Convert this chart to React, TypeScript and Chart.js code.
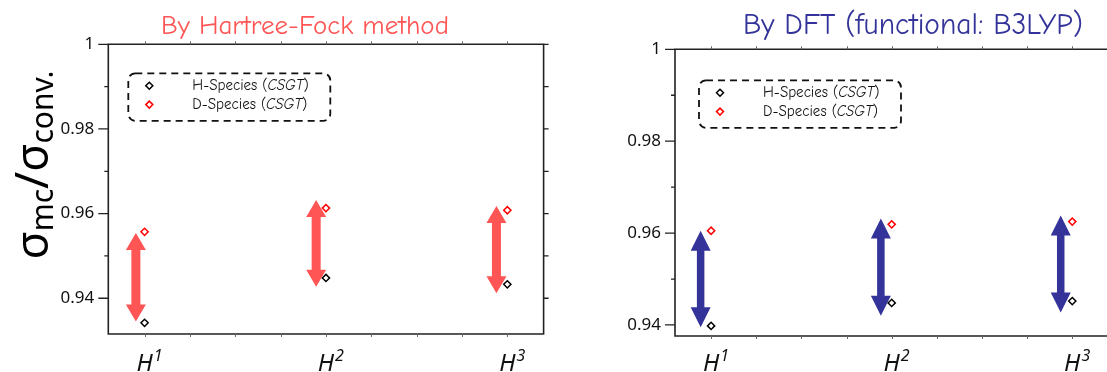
import React, { useEffect, useRef } from "react";
import { Chart, registerables } from "chart.js";

Chart.register(...registerables);

// ---------- data ----------
const categoryX = [1, 2, 3];
const categorySup = ["1", "2", "3"];
const seriesLabels = ["H-Species (CSGT)", "D-Species (CSGT)"];

const hfHSpecies = [0.9342, 0.9448, 0.9433];
const hfDSpecies = [0.9557, 0.9613, 0.9608];
const hfArrowX = [0.952, 1.946, 2.94];
const hfArrowTop = [0.9554, 0.9632, 0.9618];
const hfArrowBottom = [0.9345, 0.9427, 0.9412];

const dftHSpecies = [0.9398, 0.9448, 0.9452];
const dftDSpecies = [0.9605, 0.9619, 0.9625];
const dftArrowX = [0.942, 1.94, 2.936];
const dftArrowTop = [0.9605, 0.9632, 0.9638];
const dftArrowBottom = [0.9395, 0.942, 0.9427];

const yMajorTicks = [0.94, 0.96, 0.98, 1.0];
const yMinorTicks = [0.95, 0.97, 0.99];
const xMinorTicks = [1, 1.25, 1.5, 1.75, 2, 2.25, 2.5, 2.75, 3];

const titleFont = '"Comic Sans MS", "Comic Neue", "Noto Sans", sans-serif';
const axisFont = '"Noto Sans", "Liberation Sans", sans-serif';

// ---------- drawing plugin ----------
const decorPlugin = {
  id: "decor",
  beforeDatasetsDraw(chart: any, _a: any, o: any) {
    const ctx = chart.ctx;
    const xs = chart.scales.x;
    const ys = chart.scales.y;
    ctx.save();
    ctx.fillStyle = o.arrowColor;
    o.arrowX.forEach((xv: number, i: number) => {
      const x = xs.getPixelForValue(xv);
      const yT = ys.getPixelForValue(o.arrowTop[i]);
      const yB = ys.getPixelForValue(o.arrowBottom[i]);
      const hw = o.headW / 2;
      const sw = o.shaft / 2;
      const hl = o.headL;
      ctx.beginPath();
      ctx.moveTo(x, yT);
      ctx.lineTo(x + hw, yT + hl);
      ctx.lineTo(x + sw, yT + hl);
      ctx.lineTo(x + sw, yB - hl);
      ctx.lineTo(x + hw, yB - hl);
      ctx.lineTo(x, yB);
      ctx.lineTo(x - hw, yB - hl);
      ctx.lineTo(x - sw, yB - hl);
      ctx.lineTo(x - sw, yT + hl);
      ctx.lineTo(x - hw, yT + hl);
      ctx.closePath();
      ctx.fill();
    });
    ctx.restore();
  },
  afterDraw(chart: any, _a: any, o: any) {
    const ctx = chart.ctx;
    const ca = chart.chartArea;
    const xs = chart.scales.x;
    const ys = chart.scales.y;
    ctx.save();
    // frame
    ctx.strokeStyle = "#222";
    ctx.lineWidth = 1.6;
    ctx.beginPath();
    ctx.rect(ca.left, ca.top, ca.right - ca.left, ca.bottom - ca.top);
    ctx.stroke();
    // y ticks
    ctx.lineWidth = 1.3;
    yMajorTicks.forEach((v) => {
      const y = ys.getPixelForValue(v);
      ctx.beginPath();
      ctx.moveTo(ca.left - 10, y);
      ctx.lineTo(ca.left, y);
      ctx.moveTo(ca.right, y);
      ctx.lineTo(ca.right + 5, y);
      ctx.stroke();
    });
    yMinorTicks.forEach((v) => {
      const y = ys.getPixelForValue(v);
      ctx.beginPath();
      ctx.moveTo(ca.left - 4, y);
      ctx.lineTo(ca.left, y);
      ctx.moveTo(ca.right, y);
      ctx.lineTo(ca.right + 5, y);
      ctx.stroke();
    });
    // x ticks (top & bottom)
    ctx.strokeStyle = "#666";
    ctx.lineWidth = 1;
    xMinorTicks.forEach((v) => {
      const x = Math.round(xs.getPixelForValue(v)) + 0.5;
      ctx.beginPath();
      ctx.moveTo(x, ca.bottom);
      ctx.lineTo(x, ca.bottom + 3);
      ctx.moveTo(x, ca.top);
      ctx.lineTo(x, ca.top - 3);
      ctx.stroke();
    });
    // x category labels H^n
    ctx.fillStyle = "#111";
    ctx.textBaseline = "alphabetic";
    categoryX.forEach((v, i) => {
      const x = xs.getPixelForValue(v);
      ctx.font = `italic 24px ${axisFont}`;
      const w = ctx.measureText("H").width;
      ctx.textAlign = "center";
      ctx.fillText("H", x, 371);
      ctx.font = `italic 16px ${axisFont}`;
      ctx.textAlign = "left";
      ctx.fillText(categorySup[i], x + w / 2 + 1, 361);
    });
    // title
    ctx.font = `${o.titleSize}px ${titleFont}`;
    ctx.fillStyle = o.titleColor;
    ctx.textAlign = "center";
    ctx.fillText(o.title, o.titleX, 34);
    // legend
    const lx = ca.left + o.legendDX;
    const ly = ca.top + o.legendDY;
    const lw = 202;
    const lh = 47.5;
    ctx.strokeStyle = "#111";
    ctx.lineWidth = 1.8;
    ctx.setLineDash([7, 5]);
    ctx.beginPath();
    (ctx as any).roundRect(lx, ly, lw, lh, 7);
    ctx.stroke();
    ctx.setLineDash([]);
    chart.data.datasets.forEach((ds: any, i: number) => {
      const cy = ly + 12.5 + i * 18.8;
      const cx = lx + 21;
      ctx.strokeStyle = ds.borderColor;
      ctx.lineWidth = 1.5;
      ctx.beginPath();
      ctx.moveTo(cx, cy - 3.5);
      ctx.lineTo(cx + 3.5, cy);
      ctx.lineTo(cx, cy + 3.5);
      ctx.lineTo(cx - 3.5, cy);
      ctx.closePath();
      ctx.stroke();
      const label: string = ds.label;
      const m = label.match(/^(.*\()(.*)(\))$/);
      const parts = m
        ? [[m[1], false], [m[2], true], [m[3], false]]
        : [[label, false]];
      let tx = lx + 64;
      ctx.fillStyle = "#111";
      ctx.textAlign = "left";
      ctx.textBaseline = "middle";
      parts.forEach(([t, it]: any) => {
        ctx.font = `${it ? "italic " : ""}15px ${titleFont}`;
        ctx.fillText(t, tx, cy);
        tx += ctx.measureText(t).width;
      });
    });
    // y-axis title
    if (o.yTitle) {
      const parts: [string, boolean][] = [
        ["σ", false],
        ["mc", true],
        ["/", false],
        ["σ", false],
        ["conv.", true],
      ];
      ctx.textBaseline = "alphabetic";
      ctx.textAlign = "left";
      let total = 0;
      parts.forEach(([t, s]) => {
        ctx.font = `${s ? 30 : 46}px ${axisFont}`;
        total += ctx.measureText(t).width;
      });
      ctx.translate(48, 165);
      ctx.rotate(-Math.PI / 2);
      let px = -total / 2;
      ctx.fillStyle = "#000";
      parts.forEach(([t, s]) => {
        ctx.font = `${s ? 30 : 46}px ${axisFont}`;
        ctx.fillText(t, px, s ? 5 : 0);
        px += ctx.measureText(t).width;
      });
    }
    ctx.restore();
  },
};

type Panel = {
  hSpecies: number[];
  dSpecies: number[];
  arrowX: number[];
  arrowTop: number[];
  arrowBottom: number[];
  yMin: number;
  yAxisW: number;
  xAxisH: number;
  padTop: number;
  padRight: number;
  title: string;
  titleColor: string;
  titleX: number;
  titleSize: number;
  arrowColor: string;
  shaft: number;
  headW: number;
  headL: number;
  legendDX: number;
  legendDY: number;
  yTitle: boolean;
};

function buildConfig(p: Panel): any {
  const pts = (arr: number[]) => categoryX.map((x, i) => ({ x, y: arr[i] }));
  const ds = (label: string, data: number[], color: string) => ({
    type: "scatter",
    label,
    data: pts(data),
    pointStyle: "rectRot",
    pointRadius: 3.6,
    pointBorderWidth: 1.5,
    borderColor: color,
    backgroundColor: "#fff",
    pointBackgroundColor: "#fff",
    pointBorderColor: color,
    showLine: false,
  });
  return {
    type: "scatter",
    data: {
      datasets: [
        ds(seriesLabels[0], p.hSpecies, "#000000"),
        ds(seriesLabels[1], p.dSpecies, "#FF0000"),
      ],
    },
    options: {
      animation: false,
      responsive: false,
      layout: { padding: { top: p.padTop, right: p.padRight, left: 0, bottom: 0 } },
      plugins: {
        legend: { display: false },
        tooltip: { enabled: false },
        decor: {
          arrowX: p.arrowX,
          arrowTop: p.arrowTop,
          arrowBottom: p.arrowBottom,
          arrowColor: p.arrowColor,
          shaft: p.shaft,
          headW: p.headW,
          headL: p.headL,
          title: p.title,
          titleColor: p.titleColor,
          titleX: p.titleX,
          titleSize: p.titleSize,
          legendDX: p.legendDX,
          legendDY: p.legendDY,
          yTitle: p.yTitle,
        },
      },
      scales: {
        x: {
          type: "linear",
          min: 0.8,
          max: 3.2,
          ticks: { display: false },
          grid: { display: false, drawTicks: false },
          border: { display: false },
          afterFit(s: any) {
            s.height = p.xAxisH;
          },
        },
        y: {
          type: "linear",
          min: p.yMin,
          max: 1.0,
          afterBuildTicks(s: any) {
            s.ticks = yMajorTicks.map((v) => ({ value: v }));
          },
          ticks: {
            callback: (v: any) => (Number(v) >= 0.9999 ? "1" : Number(v).toFixed(2)),
            font: { family: axisFont, size: 17 },
            color: "#111",
            padding: 14,
          },
          grid: { display: false, drawTicks: false },
          border: { display: false },
          afterFit(s: any) {
            s.width = p.yAxisW;
          },
        },
      },
    },
    plugins: [decorPlugin],
  };
}

const leftPanel: Panel = {
  hSpecies: hfHSpecies,
  dSpecies: hfDSpecies,
  arrowX: hfArrowX,
  arrowTop: hfArrowTop,
  arrowBottom: hfArrowBottom,
  yMin: 0.93156,
  yAxisW: 108.3,
  xAxisH: 38,
  padTop: 44.3,
  padRight: 560 - 543.6,
  title: "By Hartree-Fock method",
  titleColor: "#FF5555",
  titleX: 305,
  titleSize: 27,
  arrowColor: "#FF5555",
  shaft: 9,
  headW: 20,
  headL: 17,
  legendDX: 20,
  legendDY: 29,
  yTitle: true,
};

const rightPanel: Panel = {
  hSpecies: dftHSpecies,
  dSpecies: dftDSpecies,
  arrowX: dftArrowX,
  arrowTop: dftArrowTop,
  arrowBottom: dftArrowBottom,
  yMin: 0.9376,
  yAxisW: 115,
  xAxisH: 36,
  padTop: 49.3,
  padRight: 600 - 1108.4 + 560,
  title: "By DFT (functional: B3LYP)",
  titleColor: "#333399",
  titleX: 913 - 560,
  titleSize: 29.5,
  arrowColor: "#333399",
  shaft: 7.5,
  headW: 20,
  headL: 20,
  legendDX: 24,
  legendDY: 31,
  yTitle: false,
};

function PanelChart({ panel, left, width }: { panel: Panel; left: number; width: number }) {
  const ref = useRef<HTMLCanvasElement>(null);
  useEffect(() => {
    if (!ref.current) return;
    const chart = new Chart(ref.current, buildConfig(panel));
    return () => chart.destroy();
  }, [panel]);
  return (
    <canvas
      ref={ref}
      width={width}
      height={372}
      style={{ position: "absolute", left, top: 0, width, height: 372, display: "block" }}
    />
  );
}

export default function App() {
  return (
    <div
      style={{
        position: "fixed",
        left: 0,
        top: 0,
        width: 1107,
        height: 372,
        overflow: "hidden",
        background: "#fff",
      }}
    >
      <PanelChart panel={leftPanel} left={0} width={560} />
      <PanelChart panel={rightPanel} left={560} width={600} />
    </div>
  );
}
